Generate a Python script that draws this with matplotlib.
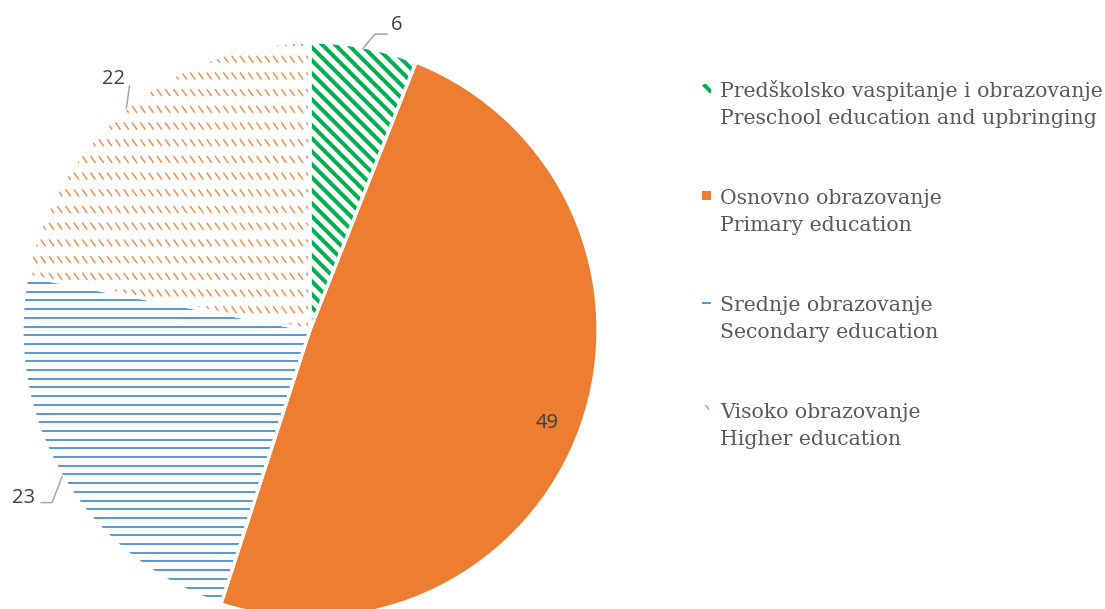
import matplotlib.pyplot as plt
import numpy as np
from matplotlib.collections import LineCollection
from matplotlib.patches import Rectangle

W, H = 1105, 609
CX, CY, R = 310, 330, 288          # pie centre / radius in pixels (y from top)

labels_sr = ['Predškolsko vaspitanje i obrazovanje',
             'Osnovno obrazovanje',
             'Srednje obrazovanje',
             'Visoko obrazovanje']
labels_en = ['Preschool education and upbringing',
             'Primary education',
             'Secondary education',
             'Higher education']
values = [6, 49, 23, 22]

GREEN, ORANGE, BLUE = '#00B050', '#ED7D31', '#5B9BD5'
colors = [GREEN, ORANGE, BLUE, ORANGE]
fills = ['diag', 'solid', 'hlines', 'dashes']
TEXT_GREY, LEADER_GREY = '#595959', '#A6A6A6'


def texture(ax, clip, style, color, px, box):
    # draw pattern lines over box, clipped to the patch; px = data units per pixel
    x0, y0, x1, y1 = box
    segs = []
    alpha = 1
    if style == 'diag':
        step = 13 * px
        L = (x1 - x0) + (y1 - y0)
        for u in np.arange(x0 - L + step / 2, x1 + step, step):
            segs.append([(u, y1), (u + L, y1 - L)])
        lw = 4 * 0.72
    elif style == 'hlines':
        step = 8.7 * px
        for y in np.arange(y0 + step / 2, y1, step):
            segs.append([(x0, y), (x1, y)])
        lw = 2 * 0.72
    else:
        sx, sy = 8.3 * px, 16.7 * px
        for x in np.arange(x0 + sx / 4, x1, sx):
            for y in np.arange(y0 + sy / 4, y1, sy):
                segs.append([(x, y + 7 * px), (x + 5 * px, y)])
        lw = 1.5 * 0.72
        alpha = 0.85
    lc = LineCollection(segs, colors=color, linewidths=lw, capstyle='butt',
                        alpha=alpha, zorder=2)
    ax.add_collection(lc)
    lc.set_clip_path(clip)


fig = plt.figure(figsize=(W / 100, H / 100), dpi=100)
ax = fig.add_axes([(CX - R) / W, (H - CY - R) / H, 2 * R / W, 2 * R / H])

faces = [c if f == 'solid' else 'white' for c, f in zip(colors, fills)]
wedges, _ = ax.pie(values, colors=faces, startangle=90, counterclock=False,
                   wedgeprops=dict(linewidth=0))
for w, f, c in zip(wedges, fills, colors):
    if f != 'solid':
        texture(ax, w, f, c, 1 / R, (-1, -1, 1, 1))
# white separators between slices
ax.pie(values, startangle=90, counterclock=False,
       wedgeprops=dict(fill=False, edgecolor='white', linewidth=2.3, zorder=3))
ax.set_xlim(-1, 1)
ax.set_ylim(-1, 1)
ax.set_aspect('auto')
ax.axis('off')

# data labels: elbow offset (px, y up), horizontal run, text offset, alignment
leaders = {0: ((11, 13), 12, (4, 4), 'left'),
           2: ((-10, -26), -11, (-6, 0), 'right'),
           3: ((3, 22), 0, (-4, 2), 'right')}
lab_font = dict(family='Open Sans', size=14.5, color='#404040')
for i, (w, v) in enumerate(zip(wedges, values)):
    mid = np.deg2rad((w.theta1 + w.theta2) / 2)
    if i in leaders:
        (ex, ey), run, (tx, ty), ha = leaders[i]
        p0 = np.array([np.cos(mid), np.sin(mid)])
        p1 = p0 + np.array([ex, ey]) / R
        p2 = p1 + np.array([run, 0]) / R
        ax.plot([p0[0], p1[0], p2[0]], [p0[1], p1[1], p2[1]], color=LEADER_GREY,
                lw=1.1, clip_on=False, zorder=4)
        ax.text(p2[0] + tx / R, p2[1] + ty / R, str(v), ha=ha, va='baseline',
                clip_on=False, **lab_font)
    else:
        mid -= np.deg2rad(1.5)
        ax.text(0.885 * np.cos(mid), 0.885 * np.sin(mid), str(v), ha='center',
                va='center', **lab_font)

# legend drawn in pixel coordinates
lg = fig.add_axes([0, 0, 1, 1])
lg.set_xlim(0, W)
lg.set_ylim(0, H)
lg.axis('off')
leg_font = dict(family='DejaVu Serif', size=14.7, color=TEXT_GREY, va='baseline')
for k, (sr, en) in enumerate(zip(labels_sr, labels_en)):
    base = H - (97.3 + 106.9 * k)
    lg.text(720, base, sr, **leg_font)
    lg.text(720, base - 26.7, en, **leg_font)
    sq = Rectangle((702, base + 4), 9, 9, linewidth=0,
                   facecolor=colors[k] if fills[k] == 'solid' else 'white')
    lg.add_patch(sq)
    if fills[k] != 'solid':
        texture(lg, sq, fills[k], colors[k], 1, (702, base + 4, 711, base + 13))

fig.savefig('out.png', dpi=100)
